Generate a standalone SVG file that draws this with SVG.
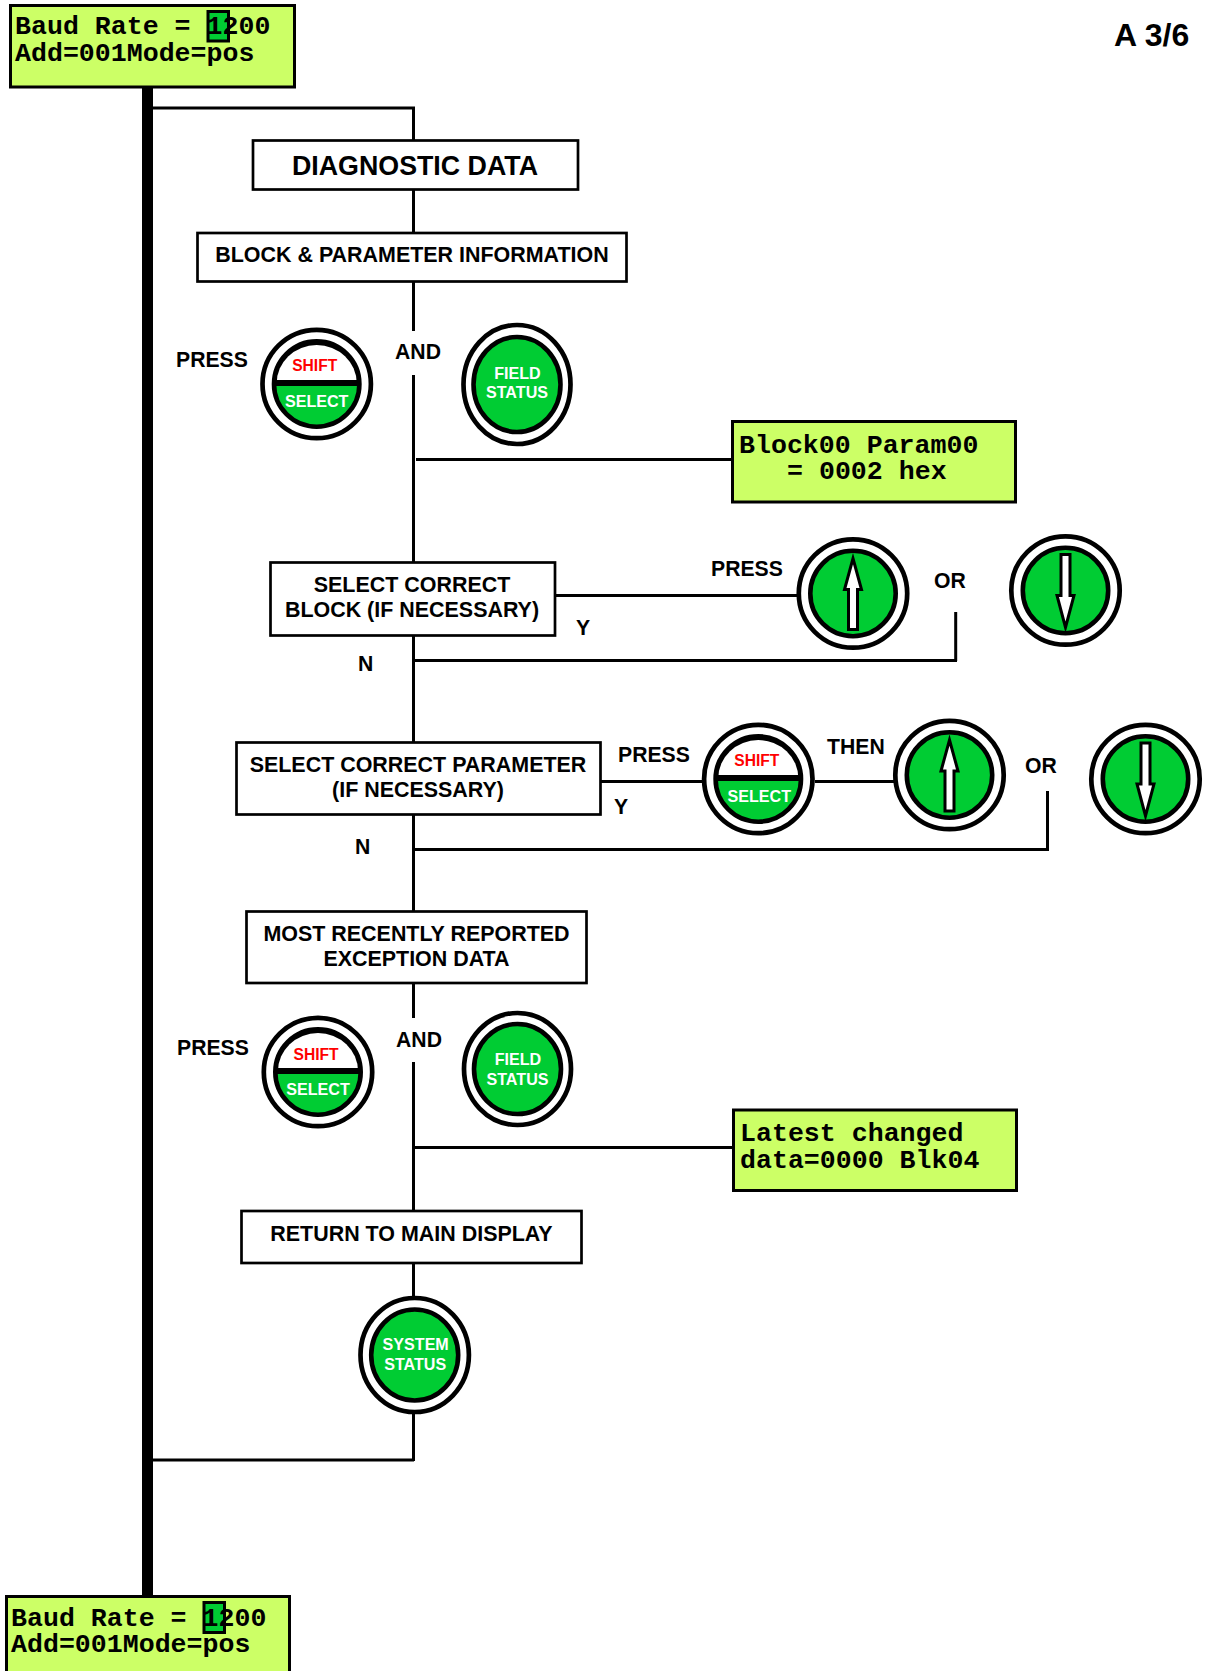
<svg xmlns="http://www.w3.org/2000/svg" xmlns:xlink="http://www.w3.org/1999/xlink" width="1205" height="1671" viewBox="0 0 1205 1671">
<style>
text{font-family:"Liberation Sans",Arial,sans-serif;font-weight:700;fill:#000}
.m{text-anchor:middle}
.t{font-size:21.45px}
.l{font-size:21.2px}
.w{font-size:16.1px;fill:#fff;text-anchor:middle}
.r{font-size:15.6px;fill:#f00;text-anchor:middle}
.lcd{font-family:"Liberation Mono","Courier New",monospace;font-size:26.6px}
.box{fill:#fff;stroke:#000;stroke-width:2.7}
.lb{fill:#cf6;stroke:#000;stroke-width:3}
.hl{fill:#0c3;stroke:#000;stroke-width:3}
.c{fill:none;stroke:#000;stroke-width:3}
.o{fill:#fff;stroke:#000;stroke-width:4.7}
.i{fill:#0c3;stroke:#000;stroke-width:4.6}
.a{fill:#fff;stroke:#000;stroke-width:3}
</style>
<defs>
<g id="btn"><circle class="o" r="54.2"/><circle class="i" r="42.7"/></g>
<g id="shift"><use href="#btn"/><path d="M-42-1A42 42 0 0 1 42-1Z"/><path d="M-40-1A40 38 0 0 1 40-1Z" fill="#fff"/><rect x="-41" y="-4" width="82" height="6"/></g>
<polygon id="up" class="a" points="0,-35 8.5,-4 4.5,-4 4.500,36 -4.500,36 -4.500,-4 -8.500,-4"/>
<polygon id="down" class="a" points="-4.500,-36 4.500,-36 4.500,5 8.500,5 0,37 -8.500,5 -4.500,5"/>
</defs>
<g id="connectors" class="c">
<rect x="142" y="88" width="11" height="1510" fill="#000" stroke="none"/>
<path d="M153 108H413.500V140M413.500 190V232M413.500 281V331M413.500 375V562M416 459.500H732M555 595.500H798M413.500 636V742M413.500 660.500H957M955.700 612V661M601 781.500H704M815 781.500H895M413.500 815V911M413.500 849.500H1049M1047.500 791V850M413.500 983V1018M413.500 1062V1210M414 1147.500H733M413.500 1263V1296M413.500 1414V1461M153 1460H414"/>
</g>
<g id="lcd-top"><rect class="lb" x="10.500" y="5.500" width="284" height="81.500"/><rect class="hl" x="208" y="11.500" width="20.500" height="29.500"/><text class="lcd" x="15" y="34">Baud Rate = 1200</text><text class="lcd" x="15" y="60.500">Add=001Mode=pos</text></g>
<g id="page"><text x="1114" y="46" style="font-size:32px">A 3/6</text></g>
<g id="diag"><rect class="box" x="253" y="140.500" width="325" height="49"/><text class="m" x="415" y="175" style="font-size:26.800px">DIAGNOSTIC DATA</text></g>
<g id="block-param"><rect class="box" x="197.500" y="233" width="429" height="48.500"/><text class="m t" x="412" y="262">BLOCK &amp; PARAMETER INFORMATION</text></g>
<g id="press1"><text class="l" x="176" y="367">PRESS</text></g>
<g id="shift1" transform="translate(316.700 384)"><use href="#shift"/><text class="r" x="-2" y="-13">SHIFT</text><text class="w" x="0" y="22.500">SELECT</text></g>
<g id="and1"><text class="l m" x="418" y="359">AND</text></g>
<g id="field1" transform="translate(517 384.500)"><ellipse class="o" rx="53.500" ry="59.500"/><ellipse class="i" rx="43.500" ry="47.500"/><text class="w" x="0.500" y="-6">FIELD</text><text class="w" y="13.500">STATUS</text></g>
<g id="lcd-block"><rect class="lb" x="732.500" y="421.500" width="283" height="80.500"/><text class="lcd" x="739" y="452.500">Block00 Param00</text><text class="lcd" x="787" y="478.500">= 0002 hex</text></g>
<g id="sel-block"><rect class="box" x="270.500" y="562.500" width="284.500" height="73"/><text class="m t" x="412" y="592">SELECT CORRECT</text><text class="m t" x="412" y="617">BLOCK (IF NECESSARY)</text></g>
<g id="press2"><text class="l" x="711" y="576">PRESS</text></g>
<g id="up1" transform="translate(853 593.500)"><use href="#btn"/><use href="#up"/></g>
<g id="or1"><text class="l" x="934" y="588">OR</text></g>
<g id="down1" transform="translate(1065.500 590.500)"><use href="#btn"/><use href="#down"/></g>
<g id="y1"><text class="l" x="576" y="635">Y</text></g>
<g id="n1"><text class="l" x="358" y="671">N</text></g>
<g id="sel-param"><rect class="box" x="236.500" y="742.500" width="364" height="72"/><text class="m t" x="418" y="772">SELECT CORRECT PARAMETER</text><text class="m t" x="418" y="797">(IF NECESSARY)</text></g>
<g id="press3"><text class="l" x="618" y="762">PRESS</text></g>
<g id="shift2" transform="translate(758.300 779)"><use href="#shift"/><text class="r" x="-1.500" y="-13">SHIFT</text><text class="w" x="1" y="22.500">SELECT</text></g>
<g id="then"><text class="l" x="827" y="754">THEN</text></g>
<g id="up2" transform="translate(949.500 775)"><use href="#btn"/><use href="#up"/></g>
<g id="or2"><text class="l" x="1025" y="773">OR</text></g>
<g id="down2" transform="translate(1145.500 779)"><use href="#btn"/><use href="#down"/></g>
<g id="y2"><text class="l" x="614" y="814">Y</text></g>
<g id="n2"><text class="l" x="355" y="854">N</text></g>
<g id="most"><rect class="box" x="246.500" y="911.500" width="340" height="71.500"/><text class="m t" x="416.500" y="941">MOST RECENTLY REPORTED</text><text class="m t" x="416.500" y="966">EXCEPTION DATA</text></g>
<g id="press4"><text class="l" x="177" y="1055">PRESS</text></g>
<g id="shift3" transform="translate(318 1072)"><use href="#shift"/><text class="r" x="-2" y="-12">SHIFT</text><text class="w" x="0" y="22.500">SELECT</text></g>
<g id="and2"><text class="l m" x="419" y="1047">AND</text></g>
<g id="field2" transform="translate(517.500 1069)"><ellipse class="o" rx="53.500" ry="56"/><ellipse class="i" rx="43.500" ry="45"/><text class="w" x="0.500" y="-4">FIELD</text><text class="w" y="15.500">STATUS</text></g>
<g id="lcd-latest"><rect class="lb" x="733.500" y="1110" width="283" height="80.500"/><text class="lcd" x="740" y="1140.500">Latest changed</text><text class="lcd" x="740" y="1167.500">data=0000 Blk04</text></g>
<g id="return"><rect class="box" x="241.500" y="1211" width="340" height="52"/><text class="m t" x="411.500" y="1241">RETURN TO MAIN DISPLAY</text></g>
<g id="system" transform="translate(414.700 1355)"><ellipse class="o" rx="54.200" ry="57"/><ellipse class="i" rx="43.500" ry="45.500"/><text class="w" x="1" y="-5">SYSTEM</text><text class="w" x="0.500" y="14.500">STATUS</text></g>
<g id="lcd-bottom"><rect class="lb" x="6.500" y="1596.500" width="283" height="80"/><rect class="hl" x="204" y="1602.500" width="20.500" height="30"/><text class="lcd" x="11" y="1626">Baud Rate = 1200</text><text class="lcd" x="11" y="1651.500">Add=001Mode=pos</text></g>
</svg>
